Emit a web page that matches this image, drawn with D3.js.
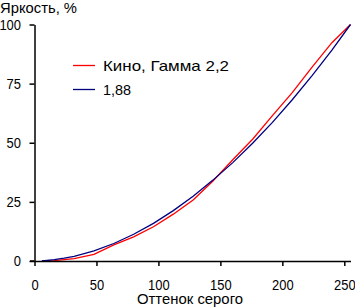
<!DOCTYPE html>
<html>
<head>
<meta charset="utf-8">
<script src="https://cdn.jsdelivr.net/npm/d3@7"></script>
<style>
body { margin: 0; background: #fff; }
text { font-family: "Liberation Sans", Arial, sans-serif; }
</style>
</head>
<body>
<script>
// Width and Height
var w = 355;
var h = 308;

// grey levels
var grey = [6, 16, 24, 32, 48, 64, 80, 96, 112, 128, 144, 160, 176, 192, 208, 224, 240, 255];
// Кино, Гамма 2,2
var cinema = [0, 0.2, 0.6, 1.0, 2.8, 6.8, 10.2, 14.5, 19.8, 25.8, 33.8, 42.8, 51.5, 61.5, 71.2, 82.0, 92.3, 100];
// 1,88
var ref = [0, 0.55, 1.2, 2.0, 4.3, 7.4, 11.3, 15.9, 21.3, 27.4, 34.2, 41.6, 49.8, 58.6, 68.2, 78.4, 89.2, 100];

var xTicks = [0, 50, 100, 150, 200, 250];
var yTicks = [0, 25, 50, 75, 100];

var series = [
    {name: "Кино, Гамма 2,2", color: "#ff0000", values: cinema, len: 126},
    {name: "1,88", color: "#000080", values: ref, len: 28}
];

var svg = d3.select("body")
            .append("svg")
            .attr("width", w)
            .attr("height", h);

var x = d3.scaleLinear().domain([0, 255]).range([34.5, 350.5]);
var y = d3.scaleLinear().domain([0, 100]).range([261, 24.5]);

var line = d3.line()
    .x(function(d, i) { return x(grey[i]); })
    .y(function(d) { return y(d); });

series.forEach(function(s) {
    svg.append("path")
        .attr("d", line(s.values))
        .attr("fill", "none")
        .attr("stroke", s.color)
        .attr("stroke-width", 1.3);
});

var xAxis = svg.append("g")
    .attr("transform", "translate(0,261)")
    .call(d3.axisBottom(x).tickValues(xTicks).tickSize(5).tickSizeOuter(0).tickPadding(13));

var yAxis = svg.append("g")
    .attr("transform", "translate(34.5,0)")
    .call(d3.axisLeft(y).tickValues(yTicks).tickSize(5).tickSizeOuter(0).tickPadding(8.5));

[xAxis, yAxis].forEach(function(a) {
    a.select(".domain").attr("stroke-width", 1.5);
    a.selectAll(".tick line").attr("stroke-width", 1.5);
    // tall, narrow digits like the original
    a.selectAll("text")
        .attr("font-family", null)
        .attr("font-size", "15px")
        .attr("fill", "#000")
        .attr("textLength", function(d) { return String(d).length * 7.2; })
        .attr("lengthAdjust", "spacingAndGlyphs");
});

// extend x axis a little left of the y axis
svg.append("line")
    .attr("x1", 30).attr("x2", 34.5)
    .attr("y1", 261).attr("y2", 261)
    .attr("stroke", "#000").attr("stroke-width", 1.5);

svg.append("text")
    .text("Яркость, %")
    .attr("x", 0)
    .attr("y", 12.5)
    .attr("font-size", "15px")
    .attr("textLength", 77)
    .attr("lengthAdjust", "spacingAndGlyphs");

svg.append("text")
    .text("Оттенок серого")
    .attr("x", 137)
    .attr("y", 304)
    .attr("font-size", "15px")
    .attr("textLength", 106)
    .attr("lengthAdjust", "spacingAndGlyphs");

var legend = svg.selectAll(".legend")
    .data(series)
    .enter()
    .append("g")
    .attr("transform", function(d, i) { return "translate(73," + (65.5 + i * 24) + ")"; });

legend.append("line")
    .attr("x1", 0).attr("x2", 22)
    .attr("stroke", function(d) { return d.color; })
    .attr("stroke-width", 1.3);

legend.append("text")
    .text(function(d) { return d.name; })
    .attr("x", 30)
    .attr("dy", "0.36em")
    .attr("font-size", "15px")
    .attr("textLength", function(d) { return d.len; })
    .attr("lengthAdjust", "spacingAndGlyphs");
</script>
</body>
</html>
